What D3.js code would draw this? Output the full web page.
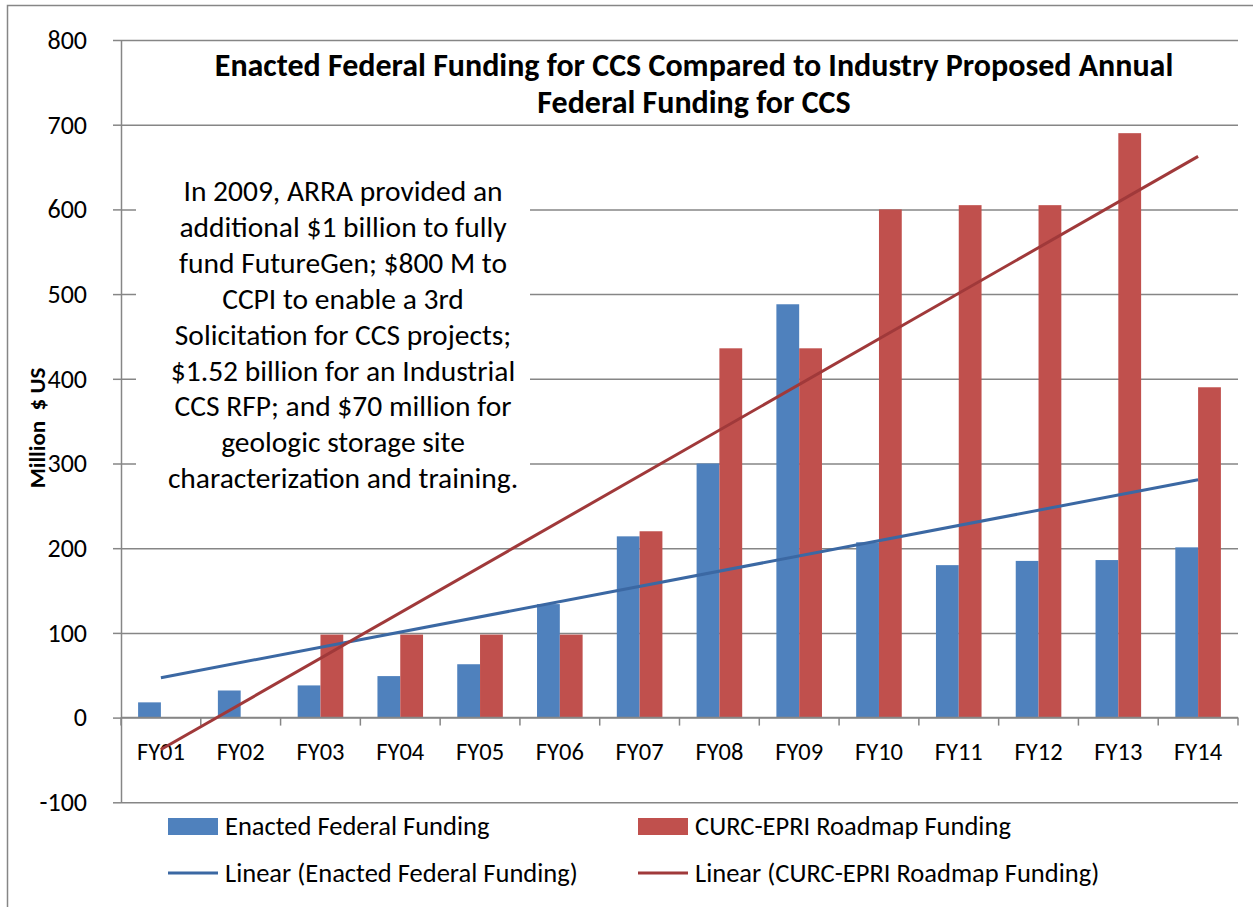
<!DOCTYPE html>
<html>
<head>
<meta charset="utf-8">
<script src="https://cdn.jsdelivr.net/npm/d3@7"></script>
<style>
  body { margin: 0; background: #fff; }
  text { font-family: Carlito, Lato, "Open Sans", sans-serif; fill: #000; }
</style>
</head>
<body>
<div id="canvas"></div>
<script>
"use strict";

// Data
let years = ["FY01", "FY02", "FY03", "FY04", "FY05", "FY06", "FY07",
             "FY08", "FY09", "FY10", "FY11", "FY12", "FY13", "FY14"];
let enacted = [18, 32, 38, 49, 63, 134, 214, 300, 488, 207, 180, 185, 186, 201];
let roadmap = [0, 0, 98, 98, 98, 98, 220, 436, 436, 600, 605, 605, 690, 390];
let seriesNames = ["Enacted Federal Funding", "CURC-EPRI Roadmap Funding"];
let yTicks = [-100, 0, 100, 200, 300, 400, 500, 600, 700, 800];
let titleLines = ["Enacted Federal Funding for CCS Compared to Industry Proposed Annual",
                  "Federal Funding for CCS"];
let noteLines = ["In 2009, ARRA provided an",
                 "additional $1 billion to fully",
                 "fund FutureGen; $800 M to",
                 "CCPI to enable a 3rd",
                 "Solicitation for CCS projects;",
                 "$1.52 billion for an Industrial",
                 "CCS RFP; and $70 million for",
                 "geologic storage site",
                 "characterization and training."];

let svgWidth = 1253;
let svgHeight = 907;
let plot = { left: 121, right: 1238, top: 40, bottom: 802.3 };

let barColors = ["#4F81BD", "#C0504D"];
let trendColors = ["#3B68A3", "#A0393A"];
let gridColor = "#868686";

let svg = d3.select("#canvas")
    .append("svg")
    .attr("width", svgWidth)
    .attr("height", svgHeight);

// outer chart border
svg.append("rect")
    .attr("x", 7.5)
    .attr("y", 5.5)
    .attr("width", svgWidth + 20)
    .attr("height", svgHeight + 20)
    .attr("fill", "#fff")
    .attr("stroke", gridColor)
    .attr("stroke-width", 1.5);

// Scales
let xScale = d3.scaleBand()
    .domain(years)
    .range([plot.left, plot.right]);

let xSub = d3.scaleBand()
    .domain([0, 1])
    .range([0, xScale.bandwidth()])
    .paddingOuter(0.75);

let yScale = d3.scaleLinear()
    .domain([-100, 800])
    .range([plot.bottom, plot.top]);

// Gridlines
svg.append("g")
    .attr("transform", `translate(${plot.left},0)`)
    .call(d3.axisLeft(yScale).tickValues(yTicks).tickSize(-(plot.right - plot.left)).tickFormat(""))
    .call(g => g.select(".domain").remove())
    .call(g => g.selectAll("line").attr("stroke", gridColor).attr("stroke-width", 1.5));

// Y axis
svg.append("g")
    .attr("transform", `translate(${plot.left},0)`)
    .call(d3.axisLeft(yScale).tickValues(yTicks).tickSize(8).tickSizeOuter(0).tickPadding(26)
        .tickFormat(d => String(d)))
    .call(g => g.select(".domain").attr("stroke", gridColor).attr("stroke-width", 1.5))
    .call(g => g.selectAll("line").attr("stroke", gridColor).attr("stroke-width", 1.5))
    .call(g => g.selectAll("text")
        .style("font-size", "26px")
        .attr("fill", "#000"));

// Bars
let barData = [];
years.forEach((yr, i) => {
    barData.push({ year: yr, s: 0, value: enacted[i] });
    barData.push({ year: yr, s: 1, value: roadmap[i] });
});

svg.selectAll("rect.bar")
    .data(barData.filter(d => d.value > 0))
    .join("rect")
    .attr("class", "bar")
    .attr("x", d => xScale(d.year) + xSub(d.s))
    .attr("width", xSub.bandwidth())
    .attr("y", d => yScale(d.value))
    .attr("height", d => yScale(0) - yScale(d.value))
    .attr("fill", d => barColors[d.s]);

// Annotation box (white, hides gridlines behind it)
svg.append("rect")
    .attr("x", 136)
    .attr("y", 150)
    .attr("width", 394)
    .attr("height", 355)
    .attr("fill", "#fff");

svg.append("g")
    .selectAll("text")
    .data(noteLines)
    .join("text")
    .attr("x", 343)
    .attr("y", (d, i) => 201 + i * 35.9)
    .attr("text-anchor", "middle")
    .style("font-size", "29.5px")
    .text(d => d);

// X axis at zero with category boundary ticks
let boundaries = years.map(d => xScale(d)).concat([plot.right]);
svg.append("line")
    .attr("x1", plot.left)
    .attr("x2", plot.right)
    .attr("y1", yScale(0))
    .attr("y2", yScale(0))
    .attr("stroke", gridColor)
    .attr("stroke-width", 1.5);

svg.selectAll("line.xtick")
    .data(boundaries)
    .join("line")
    .attr("class", "xtick")
    .attr("x1", d => d)
    .attr("x2", d => d)
    .attr("y1", yScale(0))
    .attr("y2", yScale(0) + 8)
    .attr("stroke", gridColor)
    .attr("stroke-width", 1.5);

svg.append("g")
    .attr("transform", `translate(0,${yScale(0)})`)
    .call(d3.axisBottom(xScale).tickSize(0).tickPadding(25))
    .call(g => g.select(".domain").remove())
    .call(g => g.selectAll("text")
        .style("font-size", "24.5px")
        .attr("fill", "#000"));

// Linear trendlines (least squares over category index)
function trend(values) {
    let n = values.length;
    let xs = values.map((v, i) => i + 1);
    let mx = d3.mean(xs), my = d3.mean(values);
    let sxy = d3.sum(values, (v, i) => (xs[i] - mx) * (v - my));
    let sxx = d3.sum(xs, x => (x - mx) * (x - mx));
    let slope = sxy / sxx;
    let icpt = my - slope * mx;
    return [{ year: years[0], v: icpt + slope }, { year: years[n - 1], v: icpt + slope * n }];
}

let line = d3.line()
    .x(d => xScale(d.year) + xScale.bandwidth() / 2)
    .y(d => yScale(d.v));

[enacted, roadmap].forEach((vals, s) => {
    svg.append("path")
        .datum(trend(vals))
        .attr("d", line)
        .attr("fill", "none")
        .attr("stroke", trendColors[s])
        .attr("stroke-width", 3);
});

// Title
svg.append("g")
    .selectAll("text")
    .data(titleLines)
    .join("text")
    .attr("x", 694)
    .attr("y", (d, i) => 76 + i * 37)
    .attr("text-anchor", "middle")
    .attr("font-weight", "bold")
    .style("font-size", "32px")
    .text(d => d);

// Y axis label
svg.append("text")
    .attr("transform", "translate(45,428) rotate(-90)")
    .attr("text-anchor", "middle")
    .attr("font-weight", "bold")
    .style("font-size", "23px")
    .style("white-space", "pre")
    .text("Million  $ US");

// Legend
let legendCols = [168, 638];
seriesNames.forEach((name, s) => {
    svg.append("rect")
        .attr("x", legendCols[s])
        .attr("y", 818)
        .attr("width", 50)
        .attr("height", 17)
        .attr("fill", barColors[s]);
    svg.append("text")
        .attr("x", legendCols[s] + 57)
        .attr("y", 835)
        .style("font-size", "26.5px")
        .text(name);

    svg.append("line")
        .attr("x1", legendCols[s])
        .attr("x2", legendCols[s] + 50)
        .attr("y1", 873)
        .attr("y2", 873)
        .attr("stroke", trendColors[s])
        .attr("stroke-width", 3);
    svg.append("text")
        .attr("x", legendCols[s] + 57)
        .attr("y", 882)
        .style("font-size", "26.5px")
        .text("Linear (" + name + ")");
});
</script>
</body>
</html>
